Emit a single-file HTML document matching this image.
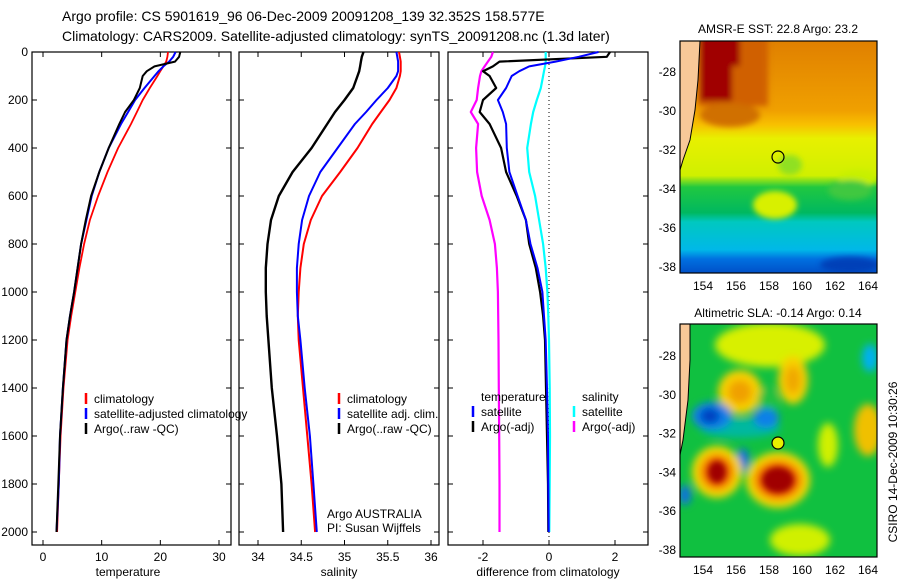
<!DOCTYPE html>
<html><head><meta charset="utf-8"><style>
body{margin:0;background:#fff;}
svg{display:block;font-family:"Liberation Sans",sans-serif;}
</style></head><body>
<svg id="c" width="900" height="580" viewBox="0 0 900 580" xmlns="http://www.w3.org/2000/svg">
<defs>
<filter id="bl" x="-50%" y="-50%" width="200%" height="200%"><feGaussianBlur stdDeviation="4"/></filter>
<filter id="bl2" x="-50%" y="-50%" width="200%" height="200%"><feGaussianBlur stdDeviation="3"/></filter>
<clipPath id="m1"><rect x="680" y="41" width="197" height="232"/></clipPath>
<clipPath id="m2"><rect x="680" y="324" width="197" height="233"/></clipPath>
<linearGradient id="sst" x1="0" y1="0" x2="0" y2="1">
<stop offset="0" stop-color="#e08000"/><stop offset="0.3" stop-color="#f0a000"/><stop offset="0.36" stop-color="#f8c000"/>
<stop offset="0.42" stop-color="#e8f000"/><stop offset="0.58" stop-color="#d0f000"/><stop offset="0.63" stop-color="#20c840"/>
<stop offset="0.74" stop-color="#00b860"/><stop offset="0.78" stop-color="#00c8c0"/><stop offset="0.9" stop-color="#00b8e8"/><stop offset="0.94" stop-color="#0070e0"/><stop offset="1" stop-color="#0050c8"/>
</linearGradient>
</defs>
<text x="62" y="21" font-size="14">Argo profile: CS 5901619_96 06-Dec-2009 20091208_139 32.352S 158.577E</text>
<text x="62" y="41" font-size="14">Climatology: CARS2009. Satellite-adjusted climatology: synTS_20091208.nc (1.3d later)</text>
<g id="g"></g>

<!-- SST map -->
<g>
<text x="778" y="33" font-size="12" text-anchor="middle">AMSR-E SST: 22.8 Argo: 23.2</text>
<g clip-path="url(#m1)">
<rect x="680" y="41" width="197" height="232" fill="url(#sst)"/>
<g filter="url(#bl2)">
<rect x="698" y="36" width="70" height="70" fill="#d06000"/>
<rect x="700" y="36" width="32" height="65" fill="#a00000"/>
<rect x="712" y="36" width="28" height="30" fill="#a00000"/>
<ellipse cx="730" cy="115" rx="30" ry="12" fill="#d07000"/>
<ellipse cx="790" cy="165" rx="12" ry="10" fill="#90e020"/>
<ellipse cx="775" cy="205" rx="22" ry="14" fill="#d8f000"/>
<ellipse cx="858" cy="178" rx="20" ry="8" fill="#c8f000"/>
<ellipse cx="850" cy="190" rx="22" ry="10" fill="#40c840"/>
<ellipse cx="850" cy="265" rx="30" ry="8" fill="#0040b8"/>
</g>
<path d="M680 41 L700 41 L698 80 L695 110 L690 140 L683 160 L680 170 Z" fill="#f8c898" stroke="#000" stroke-width="1"/>
<circle cx="778" cy="157" r="6" fill="none" stroke="#000" stroke-width="1.2"/>
</g>
<rect x="680" y="41" width="197" height="232" fill="none" stroke="#000" stroke-width="1.2"/>
</g>

<!-- SLA map -->
<g>
<text x="778" y="317" font-size="12" text-anchor="middle">Altimetric SLA: -0.14 Argo: 0.14</text>
<g clip-path="url(#m2)">
<rect x="680" y="324" width="197" height="233" fill="#10c040"/>
<g filter="url(#bl)">
<ellipse cx="770" cy="345" rx="55" ry="22" fill="#d8f000"/>
<ellipse cx="740" cy="392" rx="22" ry="22" fill="#f8d000"/>
<ellipse cx="740" cy="392" rx="12" ry="12" fill="#f0a000"/>
<ellipse cx="793" cy="380" rx="15" ry="24" fill="#f8d000"/>
<ellipse cx="793" cy="380" rx="8" ry="14" fill="#f0a800"/>
<ellipse cx="768" cy="400" rx="10" ry="12" fill="#20c040"/>
<ellipse cx="740" cy="428" rx="40" ry="10" fill="#00b8a0"/>
<ellipse cx="712" cy="416" rx="20" ry="14" fill="#1080e8"/>
<ellipse cx="710" cy="416" rx="10" ry="8" fill="#0040c0"/>
<ellipse cx="766" cy="418" rx="13" ry="10" fill="#1080e8"/>
<ellipse cx="743" cy="460" rx="6" ry="12" fill="#1070e0"/>
<ellipse cx="717" cy="472" rx="25" ry="26" fill="#f8d800"/>
<ellipse cx="717" cy="472" rx="17" ry="18" fill="#f07000"/>
<ellipse cx="778" cy="480" rx="32" ry="28" fill="#f8d800"/>
<ellipse cx="778" cy="480" rx="24" ry="20" fill="#f07000"/>
<ellipse cx="868" cy="430" rx="14" ry="26" fill="#f0c000"/>
<ellipse cx="870" cy="358" rx="8" ry="14" fill="#00b0f0"/>
<ellipse cx="828" cy="445" rx="10" ry="22" fill="#d0f000"/>
<ellipse cx="800" cy="540" rx="30" ry="16" fill="#d0f000"/>
<ellipse cx="685" cy="495" rx="6" ry="10" fill="#1070e0"/>
</g>
<g filter="url(#bl2)">
<ellipse cx="717" cy="472" rx="9" ry="11" fill="#a00000"/>
<ellipse cx="778" cy="480" rx="16" ry="13" fill="#a00000"/>
</g>
<path d="M680 324 L690 324 L690 360 L688 400 L683 440 L680 455 Z" fill="#f8c898" stroke="#000" stroke-width="1"/>
<circle cx="778" cy="443" r="6" fill="#e8f000" stroke="#000" stroke-width="1.2"/>
</g>
<rect x="680" y="324" width="197" height="233" fill="none" stroke="#000" stroke-width="1.2"/>
</g>
<text transform="translate(897,462) rotate(-90)" font-size="12" text-anchor="middle">CSIRO 14-Dec-2009 10:30:26</text>
</svg>
<script>
const depths = [0,20,40,60,80,100,150,200,250,300,400,500,600,700,800,900,1000,1100,1200,1400,1600,1800,2000];
const tempClim = [21.3,21.2,21.0,20.5,20.0,19.5,18.2,17.0,16.0,15.0,12.8,11.0,9.4,8.0,7.0,6.2,5.5,4.8,4.2,3.5,3.0,2.7,2.4];
const tempSat  = [22.6,22.2,21.5,20.5,19.7,19.0,17.3,15.7,14.5,13.3,11.2,9.6,8.3,7.4,6.5,5.9,5.3,4.6,4.0,3.4,2.9,2.7,2.3];
const tempArgo = [23.4,23.2,22.5,19.0,17.7,17.0,16.5,15.5,14.0,13.0,11.2,9.6,8.2,7.3,6.5,5.9,5.3,4.6,4.0,3.4,2.9,2.6,2.3];
const salClim = [35.63,35.64,35.65,35.65,35.65,35.64,35.6,35.52,35.42,35.32,35.15,34.95,34.74,34.61,34.53,34.49,34.47,34.46,34.47,34.52,34.57,34.62,34.66];
const salSat  = [35.60,35.61,35.62,35.62,35.62,35.60,35.5,35.37,35.25,35.12,34.92,34.72,34.59,34.51,34.47,34.45,34.45,34.46,34.49,34.54,34.60,34.64,34.68];
const salArgo = [35.22,35.20,35.19,35.18,35.17,35.15,35.10,35.00,34.89,34.80,34.62,34.40,34.24,34.15,34.11,34.09,34.09,34.10,34.12,34.16,34.22,34.27,34.29];
const dTempSat  = [1.5,0.9,0.2,-0.6,-0.9,-1.13,-1.3,-1.55,-1.4,-1.3,-1.28,-1.2,-0.95,-0.7,-0.56,-0.35,-0.2,-0.15,-0.1,-0.06,-0.03,-0.02,-0.01];
const dTempArgo = [1.85,1.75,-1.5,-1.7,-2.0,-1.8,-1.6,-2.0,-2.1,-1.8,-1.45,-1.3,-0.98,-0.7,-0.6,-0.4,-0.27,-0.18,-0.12,-0.09,-0.06,-0.03,-0.02];
const dSalSat  = [-0.1,-0.1,-0.1,-0.12,-0.15,-0.18,-0.25,-0.37,-0.48,-0.55,-0.66,-0.6,-0.42,-0.3,-0.18,-0.1,-0.05,-0.02,0,0.02,0.03,0.02,0.01];
const dSalArgo = [-1.7,-1.75,-1.85,-1.95,-2.05,-2.09,-2.15,-2.19,-2.37,-2.15,-2.21,-2.18,-2.04,-1.8,-1.64,-1.58,-1.55,-1.54,-1.53,-1.52,-1.51,-1.5,-1.5];
const depthTicks = [0,200,400,600,800,1000,1200,1400,1600,1800,2000];
const tempTicks = [0,10,20,30];
const salTicks = [34,34.5,35,35.5,36];
const diffTicks = [-2,0,2];

const NS='http://www.w3.org/2000/svg';
const g=document.getElementById('g');
const top0=52, bot=545;
const yD = d => 52 + d*0.24;
function mk(tag, attrs, txt){const e=document.createElementNS(NS,tag);for(const k in attrs)e.setAttribute(k,attrs[k]);if(txt!==undefined)e.textContent=txt;g.appendChild(e);return e;}
const panels=[
 {name:'temperature-panel', x0:32, x1:231, xs:v=>43+v*5.867, ticks:tempTicks, title:'temperature', tx:128},
 {name:'salinity-panel', x0:239, x1:439, xs:v=>258+(v-34)*86.5, ticks:salTicks, title:'salinity', tx:339},
 {name:'difference-panel', x0:448, x1:648, xs:v=>549+v*33, ticks:diffTicks, title:'difference from climatology', tx:548}
];
panels.forEach((p,i)=>{
 const r=mk('rect',{x:p.x0,y:top0,width:p.x1-p.x0,height:bot-top0,fill:'none',stroke:'#000','stroke-width':1.2});
 
 
 p.ticks.forEach(t=>{
  const x=p.xs(t);
  mk('line',{x1:x,x2:x,y1:top0,y2:top0+5,stroke:'#000'});
  mk('line',{x1:x,x2:x,y1:bot,y2:bot-5,stroke:'#000'});
  const l=mk('text',{x:x,y:561,'font-size':12,'text-anchor':'middle'},String(t));
  
  
 });
 depthTicks.forEach(d=>{
  const y=yD(d);
  mk('line',{x1:p.x0,x2:p.x0+5,y1:y,y2:y,stroke:'#000'});
  mk('line',{x1:p.x1,x2:p.x1-5,y1:y,y2:y,stroke:'#000'});
  if(i===0){
   const l=mk('text',{x:28,y:y+4,'font-size':12,'text-anchor':'end'},String(d));
   
   
  }
 });
 const t=mk('text',{x:p.tx,y:576,'font-size':12,'text-anchor':'middle'},p.title);
 
 
});
const z=mk('line',{x1:549,x2:549,y1:top0,y2:bot,stroke:'#000','stroke-dasharray':'1,3'});


function line(p,vals,color,w,name){
 const pts=vals.map((v,k)=>p.xs(v).toFixed(1)+','+yD(depths[k]).toFixed(1)).join(' ');
 const e=mk('polyline',{points:pts,fill:'none',stroke:color,'stroke-width':w,'stroke-linejoin':'round'});
 
 
}
line(panels[0],tempClim,'#f00',1.8,'temp-climatology-line');
line(panels[0],tempSat,'#00f',2,'temp-satellite-line');
line(panels[0],tempArgo,'#000',2,'temp-argo-line');
line(panels[1],salClim,'#f00',2,'sal-climatology-line');
line(panels[1],salSat,'#00f',2,'sal-satellite-line');
line(panels[1],salArgo,'#000',2.4,'sal-argo-line');
line(panels[2],dSalArgo,'#f0f',2.2,'diff-sal-argo-line');
line(panels[2],dSalSat,'#0ff',2.2,'diff-sal-satellite-line');
line(panels[2],dTempArgo,'#000',2.2,'diff-temp-argo-line');
line(panels[2],dTempSat,'#00f',2,'diff-temp-satellite-line');
function leg(x,y,color,label,name){
 const m=mk('line',{x1:x,x2:x,y1:y-10,y2:y+1,stroke:color,'stroke-width':2.5});
 
 
 const t=mk('text',{x:x+8,y:y,'font-size':12},label);
 
 
}
leg(86,403,'#f00','climatology','legend-temp-climatology');
leg(86,418,'#00f','satellite-adjusted climatology','legend-temp-satellite');
leg(86,433,'#000','Argo(..raw -QC)','legend-temp-argo');
leg(339,403,'#f00','climatology','legend-sal-climatology');
leg(339,418,'#00f','satellite adj. clim.','legend-sal-satellite');
leg(339,433,'#000','Argo(..raw -QC)','legend-sal-argo');
const lt=mk('text',{x:481,y:401,'font-size':12},'temperature');


const ls=mk('text',{x:582,y:401,'font-size':12},'salinity');


leg(473,416,'#00f','satellite','legend-diff-temp-satellite');
leg(473,431,'#000','Argo(-adj)','legend-diff-temp-argo');
leg(574,416,'#0ff','satellite','legend-diff-sal-satellite');
leg(574,431,'#f0f','Argo(-adj)','legend-diff-sal-argo');
const a1=mk('text',{x:327,y:518,'font-size':12},'Argo AUSTRALIA');


const a2=mk('text',{x:327,y:532,'font-size':12},'PI: Susan Wijffels');


// map ticks
const lons=[154,156,158,160,162,164];
const lats=[-28,-30,-32,-34,-36,-38];
[[41,273,72,267],[324,557,356,550]].forEach((m,mi)=>{
 lons.forEach(lo=>{
  const x=703+(lo-154)*16.5;
  mk('line',{x1:x,x2:x,y1:m[0],y2:m[0]+4,stroke:'#000'});
  mk('line',{x1:x,x2:x,y1:m[1],y2:m[1]-4,stroke:'#000'});
  const t=mk('text',{x:x,y:m[1]+17,'font-size':12,'text-anchor':'middle'},String(lo));
  
  
 });
 lats.forEach(la=>{
  const y=m[2]+(-28-la)*(m[3]-m[2])/10;
  mk('line',{x1:680,x2:684,y1:y,y2:y,stroke:'#000'});
  mk('line',{x1:877,x2:873,y1:y,y2:y,stroke:'#000'});
  const t=mk('text',{x:676,y:y+4,'font-size':12,'text-anchor':'end'},String(la));
  
  
 });
});
</script>
</body></html>
